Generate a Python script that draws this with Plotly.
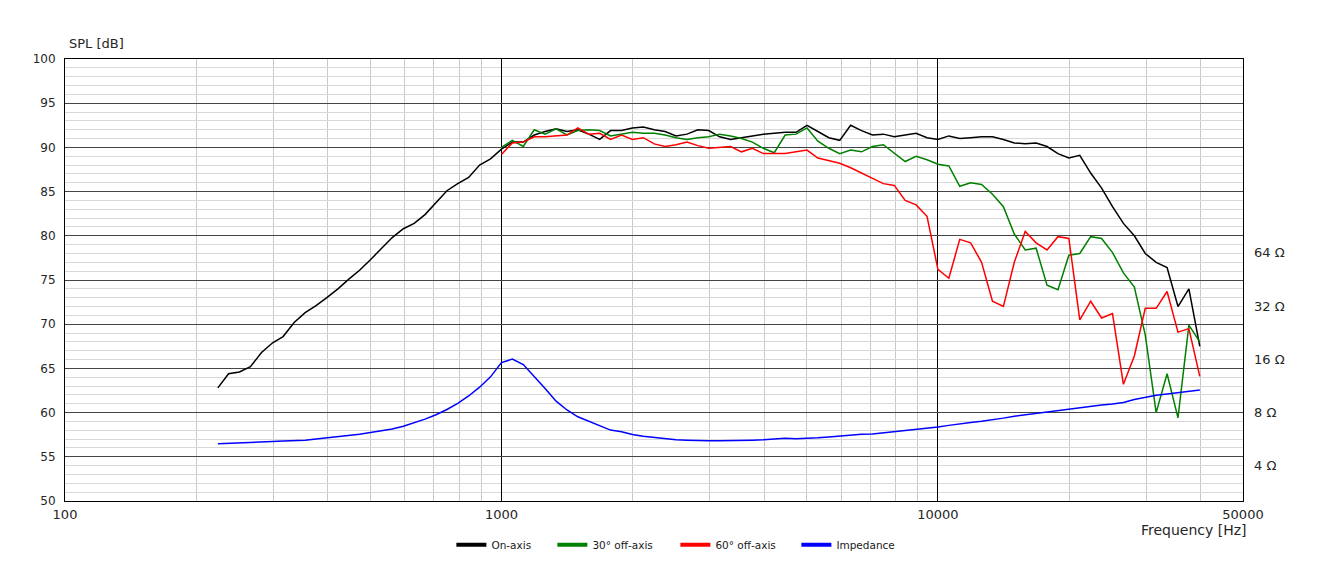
import math
import plotly.graph_objects as go

# Frequency grid (Hz), 1/40-decade measurement points
freq_hz = [224, 237, 251, 266, 282, 299, 316, 335, 355, 376, 398, 422, 447, 473, 501, 531,
           562, 596, 631, 668, 708, 750, 794, 841, 891, 944,
           1000, 1059, 1122, 1189, 1259, 1334, 1413, 1496, 1585, 1679, 1778, 1884, 1995, 2113,
           2239, 2371, 2512, 2661, 2818, 2985, 3162, 3350, 3548, 3758, 3981, 4217, 4467, 4732,
           5012, 5309, 5623, 5957, 6310, 6683, 7079, 7499, 7943, 8414, 8913, 9441,
           10000, 10593, 11220, 11885, 12589, 13335, 14125, 14962, 15849, 16788, 17783, 18836,
           19953, 21135, 22387, 23714, 25119, 26607, 28184, 29854, 31623, 33497, 35481, 37584,
           39811]

# Off-axis measurements start at 1 kHz
freq_off_axis_hz = freq_hz[26:]

spl_on_axis = [62.8, 64.4, 64.6, 65.2, 66.8, 67.9, 68.6, 70.2, 71.3, 72.1, 73.0, 74.0, 75.1,
               76.1, 77.3, 78.6, 79.8, 80.8, 81.4, 82.4, 83.7, 85.1, 85.9, 86.6, 88.0, 88.7,
               89.8, 90.6, 90.6, 91.4, 91.8, 92.1, 91.8, 92.0, 91.5, 90.9, 91.9, 91.9, 92.2,
               92.3, 92.0, 91.8, 91.3, 91.5, 92.0, 91.9,
               91.2, 90.9, 91.1, 91.3, 91.5, 91.6, 91.7, 91.7, 92.5, 91.8, 91.1, 90.8, 92.5,
               91.9, 91.4, 91.5, 91.2, 91.4, 91.6, 91.1,
               90.9, 91.3, 91.0, 91.1, 91.2, 91.2, 90.9, 90.5, 90.4, 90.5, 90.1, 89.3, 88.8,
               89.1, 87.1, 85.4, 83.3, 81.4, 80.0, 78.0, 77.0, 76.4, 72.0, 74.0, 67.5]

spl_30deg = [90.0, 90.8, 90.1, 92.0, 91.5, 92.1, 91.4, 91.9, 92.0, 91.9, 91.3, 91.5, 91.7,
             91.6, 91.6, 91.4, 91.1, 90.9, 91.1, 91.2,
             91.5, 91.3, 91.0, 90.6, 89.9, 89.4, 91.4, 91.5, 92.2, 90.7, 89.9, 89.3, 89.7,
             89.5, 90.1, 90.3, 89.4, 88.4, 89.0, 88.6,
             88.1, 87.9, 85.6, 86.0, 85.8, 84.7, 83.3, 80.2, 78.4, 78.6, 74.4, 73.9, 77.8,
             78.0, 79.9, 79.7, 78.1, 75.8, 74.2, 68.8, 60.0, 64.4, 59.4, 69.9, 68.0]

spl_60deg = [89.2, 90.5, 90.6, 91.2, 91.2, 91.3, 91.4, 92.2, 91.5, 91.6, 90.9, 91.4, 90.9,
             91.1, 90.4, 90.1, 90.3, 90.6, 90.2, 89.9,
             90.0, 90.1, 89.5, 89.9, 89.3, 89.3, 89.3, 89.5, 89.7, 88.8, 88.5, 88.2, 87.7,
             87.1, 86.5, 85.9, 85.7, 84.0, 83.5, 82.2,
             76.2, 75.2, 79.6, 79.2, 77.0, 72.6, 72.0, 77.0, 80.5, 79.2, 78.4, 79.9, 79.7,
             70.5, 72.6, 70.7, 71.2, 63.2, 66.4, 71.8, 71.8, 73.7, 69.1, 69.5, 64.1]

impedance_ohm = [5.32, 5.34, 5.36, 5.38, 5.43, 5.47, 5.50, 5.53, 5.57, 5.65, 5.73, 5.81, 5.90,
                 6.01, 6.15, 6.27, 6.44, 6.68, 6.98, 7.32, 7.75, 8.3, 9.0, 9.9, 11.1, 12.7,
                 15.3, 16.0, 14.9, 12.8, 10.9, 9.25, 8.25, 7.55, 7.1, 6.7, 6.35, 6.22, 6.0,
                 5.85, 5.76, 5.66, 5.59, 5.56, 5.53, 5.53,
                 5.53, 5.53, 5.55, 5.57, 5.6, 5.65, 5.7, 5.68, 5.7, 5.74, 5.8, 5.88, 5.98,
                 6.01, 6.04, 6.12, 6.22, 6.3, 6.38, 6.48,
                 6.6, 6.75, 6.9, 7.0, 7.12, 7.25, 7.42, 7.6, 7.75, 7.9, 8.05, 8.2, 8.36, 8.52,
                 8.68, 8.8, 8.93, 9.1, 9.45, 9.75, 10.0, 10.15, 10.3, 10.45, 10.7]

series_names = ["On-axis", "30° off-axis", "60° off-axis", "Impedance"]
series_colors = ["#000000", "#008000", "#ff0000", "#0000ff"]
legend_widths = [56, 78, 76, 60]

x_ticks = [100, 1000, 10000, 50000]
x_minor = [200, 300, 400, 500, 600, 700, 800, 900,
           2000, 3000, 4000, 5000, 6000, 7000, 8000, 9000,
           20000, 30000, 40000]
y_ticks = [50, 55, 60, 65, 70, 75, 80, 85, 90, 95, 100]
ohm_ticks = [4, 8, 16, 32, 64]
ohm_labels = ["4 Ω", "8 Ω", "16 Ω", "32 Ω", "64 Ω"]

fig = go.Figure()
curves = [(freq_hz, spl_on_axis, "y"), (freq_off_axis_hz, spl_30deg, "y"),
          (freq_off_axis_hz, spl_60deg, "y"), (freq_hz, impedance_ohm, "y2")]
for (xs, ys, ax), name, col in zip(curves, series_names, series_colors):
    fig.add_trace(go.Scatter(x=xs, y=ys, mode="lines", name=name, yaxis=ax,
                             line=dict(color=col, width=1.5), showlegend=False,
                             hoverinfo="skip"))
# legend entries with thick sample lines
for name, col, lw in zip(series_names, series_colors, legend_widths):
    fig.add_trace(go.Scatter(x=[None], y=[None], mode="lines", name=name,
                             line=dict(color=col, width=4), showlegend=True,
                             legendwidth=lw))

fig.update_layout(
    width=1321, height=582,
    margin=dict(l=65, r=78, t=59, b=81),
    paper_bgcolor="white", plot_bgcolor="white",
    font=dict(family="DejaVu Sans", size=12, color="#262626"),
    showlegend=True,
    legend=dict(orientation="h", x=0.519, xanchor="center", y=-0.099, yanchor="middle",
                font=dict(family="DejaVu Sans", size=10.5, color="#1a1a1a"),
                itemwidth=30, bgcolor="rgba(0,0,0,0)"),
    xaxis=dict(type="log", range=[2, math.log10(50000)],
               tickmode="array", tickvals=x_ticks, ticktext=[str(v) for v in x_ticks],
               showgrid=True, gridcolor="#000000", gridwidth=1,
               minor=dict(tickmode="array", tickvals=x_minor, showgrid=True,
                          gridcolor="#c8c8c8", ticks=""),
               showline=True, linecolor="#000000", linewidth=1, mirror=True,
               ticks="", zeroline=False, tickfont=dict(size=13),
               ticklabelstandoff=1),
    yaxis=dict(range=[50, 100], tickmode="array", tickvals=y_ticks,
               showgrid=True, gridcolor="#454545", gridwidth=1,
               minor=dict(dtick=1, showgrid=True, gridcolor="#d8d8d8", ticks=""),
               showline=True, linecolor="#000000", linewidth=1, mirror=True,
               ticks="", zeroline=False, tickfont=dict(size=12),
               ticklabelstandoff=6),
    yaxis2=dict(type="log", overlaying="y", side="right",
                range=[math.log10(2.52), math.log10(799)],
                tickmode="array", tickvals=ohm_ticks, ticktext=ohm_labels,
                showgrid=False, ticks="", showline=False, zeroline=False,
                tickfont=dict(size=13), ticklabelstandoff=10),
    annotations=[
        dict(text="SPL [dB]", xref="paper", yref="paper", x=0, y=1, xanchor="left",
             yanchor="middle", xshift=2, yshift=16, showarrow=False,
             font=dict(size=13, color="#262626")),
        dict(text="Frequency [Hz]", xref="paper", yref="paper", x=1, y=0,
             xanchor="right", yanchor="middle", xshift=6, yshift=-29, showarrow=False,
             font=dict(size=14, color="#262626")),
    ],
)

fig.write_html("out.html")
